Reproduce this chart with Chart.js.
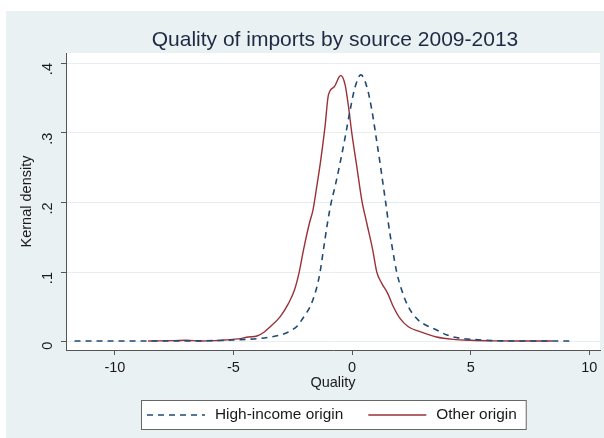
<!DOCTYPE html>
<html>
<head>
<meta charset="utf-8">
<script src="https://cdn.jsdelivr.net/npm/chart.js@4.4.0/dist/chart.umd.min.js"></script>
<style>
  html, body { margin:0; padding:0; background:#fff; }
  #wrap { position:relative; width:604px; height:438px; overflow:hidden; }
  #bg { position:absolute; left:6px; top:11px; right:0; bottom:0; background:#eaf1f3; }
  canvas { position:absolute; left:0; top:0; }
</style>
</head>
<body>
<div id="wrap"><div id="bg"></div><canvas id="chart" width="604" height="438"></canvas></div>
<script>
  // ---- data
  const TITLE   = 'Quality of imports by source 2009-2013';
  const X_TITLE = 'Quality';
  const Y_TITLE = 'Kernal density';
  const X_TICKS = [-10, -5, 0, 5, 10];
  const Y_TICKS = [0, 0.1, 0.2, 0.3, 0.4];
  const SERIES  = ['High-income origin', 'Other origin'];

  const hiX = [-11.7, -10, -8, -6.5, -5.5, -5.0, -4.4, -3.87, -3.4, -3.03, -2.75, -2.54, -2.3, -2.13, -1.95, -1.77,
               -1.52, -1.35, -1.21, -1.04, -0.88, -0.72, -0.51, -0.29, -0.08, 0.13, 0.37, 0.62, 0.83, 1.01, 1.18,
               1.32, 1.46, 1.53, 1.71, 1.88, 2.09, 2.37, 2.79, 3.1, 3.43, 4.0, 4.55, 5.2, 6, 7, 8, 9.2];
  const hiY = [0.001, 0.001, 0.001, 0.0012, 0.0018, 0.0024, 0.0035, 0.0048, 0.007, 0.0096, 0.013, 0.0167, 0.023, 0.031, 0.040, 0.0502,
               0.0742, 0.1, 0.1316, 0.170, 0.2, 0.2225, 0.256, 0.294, 0.333, 0.366, 0.383, 0.366, 0.333, 0.294, 0.256,
               0.2225, 0.189, 0.170, 0.1316, 0.1, 0.0742, 0.0502, 0.031, 0.024, 0.019, 0.0096, 0.005, 0.003, 0.0015, 0.001, 0.001, 0.001];

  const otX = [-8.6, -7.5, -7.0, -6.4, -5.8, -5.28, -4.8, -4.37, -4.01, -3.7, -3.45, -3.03, -2.68, -2.43, -2.23, -2.05,
               -1.80, -1.65, -1.49, -1.32, -1.14, -1.0, -0.75, -0.48, -0.29, -0.15, -0.01, 0.2, 0.41, 0.62, 0.87, 1.04,
               1.25, 1.50, 1.74, 2.02, 2.37, 2.86, 3.56, 4.27, 5, 6, 7, 8.45];
  const otY = [0.001, 0.0015, 0.002, 0.001, 0.0015, 0.0027, 0.004, 0.0067, 0.0082, 0.014, 0.0215, 0.036, 0.055, 0.0742, 0.1, 0.1316,
               0.170, 0.189, 0.2225, 0.261, 0.309, 0.354, 0.366, 0.382, 0.368, 0.337, 0.299, 0.251, 0.203, 0.170, 0.1316, 0.1,
               0.0838, 0.0694, 0.0502, 0.0335, 0.0215, 0.0144, 0.0067, 0.0033, 0.002, 0.0012, 0.001, 0.001];

  const FONT = "'Liberation Sans', Arial, sans-serif";
  const NAVY = '#1f4a73', MAROON = '#993139', AXIS = '#555', GRID = '#e7eef0';

  const pts = (xs, ys) => xs.map((x, i) => ({ x, y: ys[i] }));

  // white plot region, title on plot centre, Stata-like boxed legend
  const frame = {
    id: 'frame',
    beforeDraw(chart){
      const { ctx, chartArea:a } = chart;
      ctx.save();
      ctx.fillStyle = '#fff';
      ctx.fillRect(a.left, a.top, a.right - a.left, a.bottom - a.top);
      ctx.restore();
    },
    afterDraw(chart){
      const { ctx, chartArea:a } = chart;
      const cx = (a.left + a.right) / 2;
      ctx.save();
      ctx.fillStyle = '#1d2a42';
      ctx.font = `21px ${FONT}`;
      ctx.textAlign = 'center';
      ctx.textBaseline = 'middle';
      ctx.fillText(TITLE, cx + 2, 40);

      // legend
      ctx.font = `15.4px ${FONT}`;
      const ds = chart.data.datasets;
      const sample = 58, gap = 10, between = 25, pad = 6;
      const widths = ds.map(d => ctx.measureText(d.label).width);
      const total = pad * 2 + ds.length * (sample + gap) + widths.reduce((s, w) => s + w, 0) + between * (ds.length - 1) + 3;
      const top = 400, h = 29, left = Math.round(cx - total / 2);
      ctx.fillStyle = '#fff';
      ctx.fillRect(left + 0.5, top + 0.5, total, h);
      ctx.strokeStyle = '#666';
      ctx.lineWidth = 1;
      ctx.strokeRect(left + 0.5, top + 0.5, total, h);
      let x = left + pad;
      const y = top + h / 2 + 0.5;
      ds.forEach((d, i) => {
        ctx.beginPath();
        ctx.setLineDash(d.borderDash || []);
        ctx.strokeStyle = d.borderColor;
        ctx.lineWidth = d.borderWidth;
        ctx.moveTo(x, y); ctx.lineTo(x + sample, y);
        ctx.stroke();
        ctx.setLineDash([]);
        x += sample + gap;
        ctx.fillStyle = '#1a1a1a';
        ctx.textAlign = 'left';
        ctx.fillText(d.label, x, y);
        x += widths[i] + between;
      });
      ctx.restore();
    }
  };

  new Chart(document.getElementById('chart').getContext('2d'), {
    type: 'line',
    data: {
      datasets: [
        { label: SERIES[0], data: pts(hiX, hiY), borderColor: NAVY, borderWidth: 1.6, borderDash: [6, 5],
          pointRadius: 0, fill: false, cubicInterpolationMode: 'monotone' },
        { label: SERIES[1], data: pts(otX, otY), borderColor: MAROON, borderWidth: 1.4,
          pointRadius: 0, fill: false, cubicInterpolationMode: 'monotone' }
      ]
    },
    options: {
      responsive: false,
      animation: false,
      devicePixelRatio: 1,
      layout: { padding: { top: 53, right: 4, left: 0, bottom: 0 } },
      plugins: { legend: { display: false }, title: { display: false }, tooltip: { enabled: false } },
      scales: {
        x: {
          type: 'linear', min: -12.06, max: 10.45,
          afterBuildTicks: s => { s.ticks = X_TICKS.map(v => ({ value: v })); },
          afterFit: s => { s.height = 88; },
          grid: { drawOnChartArea: false, tickLength: 5, tickColor: AXIS },
          border: { color: AXIS, width: 1 },
          ticks: { font: { family: FONT, size: 14.5 }, color: '#1a1a1a', padding: 4, maxRotation: 0 },
          title: { display: true, text: X_TITLE, font: { family: FONT, size: 14.5 }, color: '#1a1a1a',
                   padding: { top: 0, bottom: 46 } }
        },
        y: {
          type: 'linear', min: -0.0119, max: 0.4144,
          afterBuildTicks: s => { s.ticks = Y_TICKS.map(v => ({ value: v })); },
          afterFit: s => { s.width = 66; },
          grid: { color: GRID, lineWidth: 1, tickLength: 5, tickColor: AXIS },
          border: { color: AXIS, width: 1 },
          ticks: { font: { family: FONT, size: 14.5 }, color: '#1a1a1a', padding: 13, minRotation: 90, maxRotation: 90,
                   callback: v => v === 0 ? '0' : String(v).replace(/^0/, '') },
          title: { display: true, text: Y_TITLE, font: { family: FONT, size: 14.5 }, color: '#1a1a1a',
                   padding: { top: 18, bottom: 0 } }
        }
      }
    },
    plugins: [frame]
  });
</script>
</body>
</html>
